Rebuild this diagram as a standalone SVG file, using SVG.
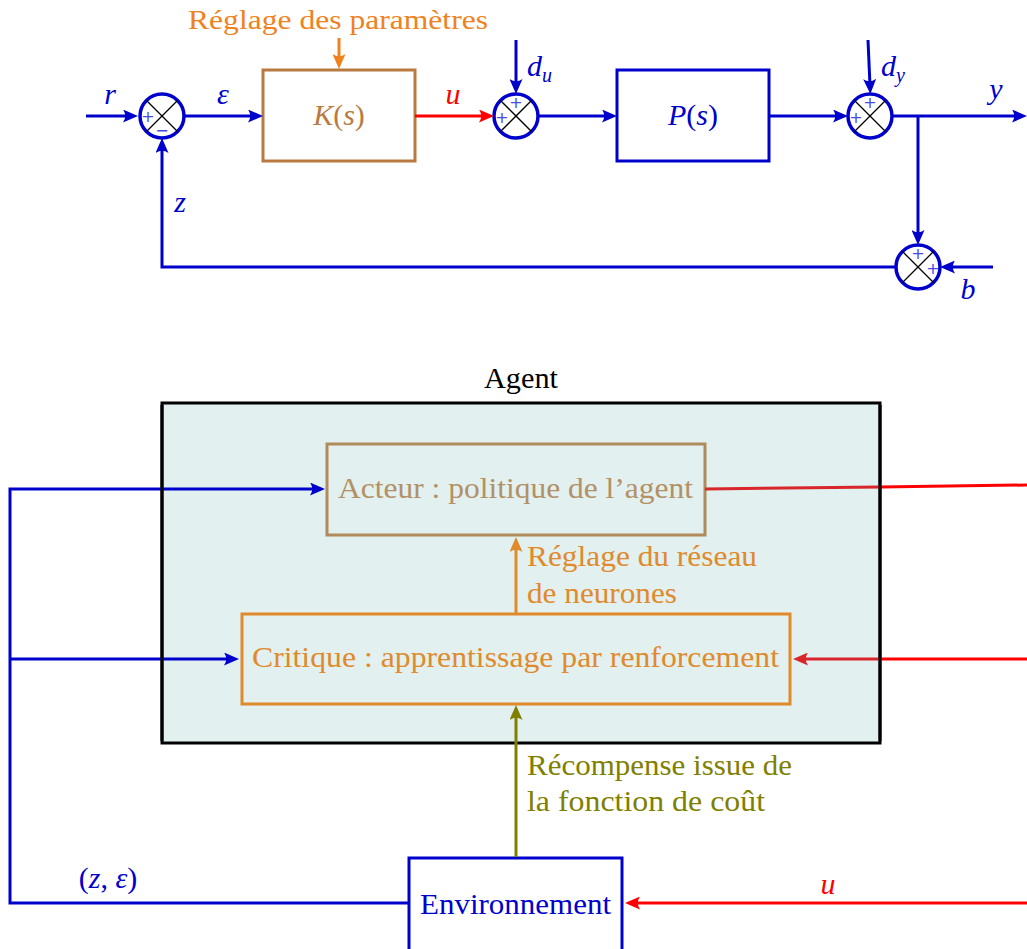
<svg xmlns="http://www.w3.org/2000/svg" width="1027" height="949" viewBox="0 0 1027 949">
<style>
.t{font-family:"Liberation Serif","Times New Roman",serif;}
.m{font-family:"Liberation Serif","Times New Roman",serif;font-style:italic;}
.blue{stroke:#0000cc;stroke-width:3;fill:none;}
.red{stroke:#ff0000;stroke-width:3;fill:none;}
.redi{stroke:#d8262a;stroke-width:3;fill:none;}
.org{stroke:#f0821e;stroke-width:3;fill:none;}
.orgi{stroke:#e08a2c;stroke-width:3;fill:none;}
.olive{stroke:#808000;stroke-width:3;fill:none;}
.sum{stroke:#0000cc;stroke-width:3.5;fill:#ffffff;}
.x{stroke:#000000;stroke-width:1.3;}
.pm{font-family:"DejaVu Sans","Liberation Sans",sans-serif;font-size:16px;fill:#4a4ae0;text-anchor:middle;}
</style>
<defs>
<marker id="ab" viewBox="0 0 15 13" refX="7" refY="6.5" markerWidth="15" markerHeight="13" markerUnits="userSpaceOnUse" orient="auto"><path d="M0,0 L15,6.5 L0,13 Q4.5,6.5 0,0Z" fill="#0000cc"/></marker>
<marker id="ar" viewBox="0 0 15 13" refX="7" refY="6.5" markerWidth="15" markerHeight="13" markerUnits="userSpaceOnUse" orient="auto"><path d="M0,0 L15,6.5 L0,13 Q4.5,6.5 0,0Z" fill="#ff0000"/></marker>
<marker id="ari" viewBox="0 0 15 13" refX="7" refY="6.5" markerWidth="15" markerHeight="13" markerUnits="userSpaceOnUse" orient="auto"><path d="M0,0 L15,6.5 L0,13 Q4.5,6.5 0,0Z" fill="#d8262a"/></marker>
<marker id="ao" viewBox="0 0 15 13" refX="7" refY="6.5" markerWidth="15" markerHeight="13" markerUnits="userSpaceOnUse" orient="auto"><path d="M0,0 L15,6.5 L0,13 Q4.5,6.5 0,0Z" fill="#f0821e"/></marker>
<marker id="aoi" viewBox="0 0 15 13" refX="7" refY="6.5" markerWidth="15" markerHeight="13" markerUnits="userSpaceOnUse" orient="auto"><path d="M0,0 L15,6.5 L0,13 Q4.5,6.5 0,0Z" fill="#e08a2c"/></marker>
<marker id="av" viewBox="0 0 15 13" refX="7" refY="6.5" markerWidth="15" markerHeight="13" markerUnits="userSpaceOnUse" orient="auto"><path d="M0,0 L15,6.5 L0,13 Q4.5,6.5 0,0Z" fill="#808000"/></marker>
</defs>
<rect x="0" y="0" width="1027" height="949" fill="#ffffff"/>

<!-- ===== Top: control loop ===== -->
<g id="K">
<rect x="263" y="70" width="152" height="91" fill="none" stroke="#b97a40" stroke-width="3"/>
<text class="m" x="339" y="125" font-size="30" fill="#b97a40" text-anchor="middle">K<tspan font-style="normal">(</tspan>s<tspan font-style="normal">)</tspan></text>
</g>
<g id="P">
<rect x="617" y="70" width="152" height="91" fill="none" stroke="#0000cc" stroke-width="3"/>
<text class="m" x="693" y="125" font-size="30" fill="#0000cc" text-anchor="middle">P<tspan font-style="normal">(</tspan>s<tspan font-style="normal">)</tspan></text>
</g>
<g id="sum1">
<circle class="sum" cx="162" cy="116" r="22"/>
<line class="x" x1="146.5" y1="100.5" x2="177.5" y2="131.5"/>
<line class="x" x1="177.5" y1="100.5" x2="146.5" y2="131.5"/>
<text class="pm" x="148" y="122">+</text>
<text class="pm" x="162" y="136">−</text>
</g>
<g id="sum2">
<circle class="sum" cx="516" cy="116" r="22"/>
<line class="x" x1="500.5" y1="100.5" x2="531.5" y2="131.5"/>
<line class="x" x1="531.5" y1="100.5" x2="500.5" y2="131.5"/>
<text class="pm" x="516" y="108">+</text>
<text class="pm" x="502" y="123">+</text>
</g>
<g id="sum3">
<circle class="sum" cx="870" cy="116" r="22"/>
<line class="x" x1="854.5" y1="100.5" x2="885.5" y2="131.5"/>
<line class="x" x1="885.5" y1="100.5" x2="854.5" y2="131.5"/>
<text class="pm" x="870" y="108">+</text>
<text class="pm" x="856" y="123">+</text>
</g>
<g id="sum4">
<circle class="sum" cx="918" cy="267" r="22"/>
<line class="x" x1="902.5" y1="251.5" x2="933.5" y2="282.5"/>
<line class="x" x1="933.5" y1="251.5" x2="902.5" y2="282.5"/>
<text class="pm" x="918" y="259">+</text>
<text class="pm" x="933" y="274">+</text>
</g>

<!-- ===== Bottom: agent ===== -->
<g id="agent">
<rect x="162" y="403" width="718" height="340" fill="#e2f0ef" stroke="#000000" stroke-width="3"/>
<text class="t" x="521" y="388" font-size="29" fill="#000000" text-anchor="middle" textLength="74" lengthAdjust="spacingAndGlyphs">Agent</text>
</g>
<g id="acteur">
<rect x="327" y="444" width="378" height="91" fill="none" stroke="#b08b5b" stroke-width="3"/>
<text class="t" x="338" y="498" font-size="29" fill="#b39065" textLength="355" lengthAdjust="spacingAndGlyphs">Acteur : politique de l’agent</text>
</g>
<g id="critique">
<rect x="242" y="614" width="548" height="90" fill="none" stroke="#e08a2c" stroke-width="3"/>
<text class="t" x="252" y="667" font-size="29" fill="#e08a2c" textLength="527" lengthAdjust="spacingAndGlyphs">Critique : apprentissage par renforcement</text>
</g>
<g id="environnement">
<rect x="409" y="858" width="213" height="100" fill="none" stroke="#0000cc" stroke-width="3"/>
<text class="t" x="420" y="914" font-size="29" fill="#0000cc" textLength="191" lengthAdjust="spacingAndGlyphs">Environnement</text>
</g>

<g id="connectors">
<!-- top -->
<line class="blue" x1="86" y1="116" x2="130" y2="116" marker-end="url(#ab)"/>
<line class="blue" x1="184" y1="116" x2="255" y2="116" marker-end="url(#ab)"/>
<line class="org" x1="339" y1="38" x2="339" y2="61" marker-end="url(#ao)"/>
<line class="red" x1="415" y1="116" x2="486" y2="116" marker-end="url(#ar)"/>
<line class="blue" x1="516" y1="40" x2="516" y2="86" marker-end="url(#ab)"/>
<line class="blue" x1="538" y1="116" x2="609" y2="116" marker-end="url(#ab)"/>
<line class="blue" x1="769" y1="116" x2="840" y2="116" marker-end="url(#ab)"/>
<line class="blue" x1="868" y1="40" x2="870" y2="86" marker-end="url(#ab)"/>
<line class="blue" x1="892" y1="116" x2="1019" y2="116" marker-end="url(#ab)"/>
<line class="blue" x1="918" y1="116" x2="918" y2="237" marker-end="url(#ab)"/>
<line class="blue" x1="993" y1="267" x2="948" y2="267" marker-end="url(#ab)"/>
<polyline class="blue" points="896,267 162,267 162,146" marker-end="url(#ab)"/>
<!-- bottom -->
<polyline class="blue" points="409,903 10,903 10,489 317,489" marker-end="url(#ab)"/>
<line class="blue" x1="10" y1="659" x2="231" y2="659" marker-end="url(#ab)"/>
<line class="redi" x1="705" y1="489" x2="880" y2="487"/>
<line class="red" x1="880" y1="487" x2="1027" y2="485"/>
<line class="red" x1="1027" y1="659" x2="880" y2="659"/>
<line class="redi" x1="880" y1="659" x2="801" y2="659" marker-end="url(#ari)"/>
<line class="orgi" x1="516" y1="613" x2="516" y2="545" marker-end="url(#aoi)"/>
<line class="olive" x1="516" y1="857" x2="516" y2="713" marker-end="url(#av)"/>
<line class="red" x1="1027" y1="903" x2="633" y2="903" marker-end="url(#ar)"/>
<line x1="880" y1="405" x2="880" y2="741" stroke="#000000" stroke-width="3"/>
<line x1="162" y1="405" x2="162" y2="741" stroke="#000000" stroke-width="3"/>
</g>

<g id="labels">
<text class="t" x="338" y="29" font-size="28" fill="#f0821e" text-anchor="middle" textLength="300" lengthAdjust="spacingAndGlyphs">Réglage des paramètres</text>
<text class="m" x="110" y="104" font-size="30" fill="#0000cc" text-anchor="middle">r</text>
<text class="m" x="223" y="104" font-size="30" fill="#0000cc" text-anchor="middle">ε</text>
<text class="m" x="453" y="104" font-size="30" fill="#ff0000" text-anchor="middle">u</text>
<text class="m" x="527" y="76" font-size="30" fill="#0000cc">d<tspan font-size="20" dy="6">u</tspan></text>
<text class="m" x="881" y="76" font-size="30" fill="#0000cc">d<tspan font-size="20" dy="6">y</tspan></text>
<text class="m" x="996" y="99" font-size="30" fill="#0000cc" text-anchor="middle">y</text>
<text class="m" x="968" y="299" font-size="30" fill="#0000cc" text-anchor="middle">b</text>
<text class="m" x="180" y="212" font-size="30" fill="#0000cc" text-anchor="middle">z</text>
<text class="t" x="527" y="566" font-size="29" fill="#e08a2c" textLength="230" lengthAdjust="spacingAndGlyphs">Réglage du réseau</text>
<text class="t" x="527" y="603" font-size="29" fill="#e08a2c" textLength="150" lengthAdjust="spacingAndGlyphs">de neurones</text>
<text class="t" x="527" y="775" font-size="29" fill="#808000" textLength="265" lengthAdjust="spacingAndGlyphs">Récompense issue de</text>
<text class="t" x="527" y="811" font-size="29" fill="#808000" textLength="238" lengthAdjust="spacingAndGlyphs">la fonction de coût</text>
<text class="m" x="828" y="894" font-size="30" fill="#ff0000" text-anchor="middle">u</text>
<text class="m" x="108" y="888" font-size="30" fill="#0000cc" text-anchor="middle"><tspan font-style="normal">(</tspan>z<tspan font-style="normal">, </tspan>ε<tspan font-style="normal">)</tspan></text>
</g>
</svg>
